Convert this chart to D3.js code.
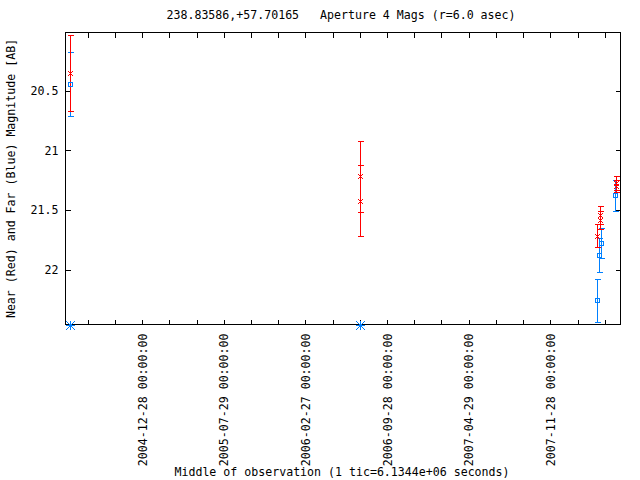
<!DOCTYPE html>
<html><head><meta charset="utf-8">
<script src="https://cdn.jsdelivr.net/npm/d3@7"></script>
<style>body{margin:0;background:#fff}svg{display:block}</style>
</head><body><svg id="c" width="640" height="480"></svg>
<script>
// ---------- data ----------
const titleText = "238.83586,+57.70165   Aperture 4 Mags (r=6.0 asec)";
const xTitle = "Middle of observation (1 tic=6.1344e+06 seconds)";
const yTitle = "Near (Red) and Far (Blue) Magnitude [AB]";

const xDomain = ["2004-06-10T21:00:00Z", "2008-05-29T05:00:00Z"];
const yDomain = [20.01, 22.46];
const yTicks = [20.5, 21, 21.5, 22];
const yTickLabels = ["20.5", "21", "21.5", "22"];
const xTickLabels = ["2004-12-28 00:00:00", "2005-07-29 00:00:00", "2006-02-27 00:00:00",
                     "2006-09-28 00:00:00", "2007-04-29 00:00:00", "2007-11-28 00:00:00"];
const ticStepDays = 71;       // 6.1344e6 s
const ticsPerLabel = 3;

// Near (red) aperture magnitudes
const nearDates = ["2004-06-23T00:00:00Z", "2006-07-20T07:00:00Z", "2006-07-20T07:00:00Z",
                   "2008-03-30T00:00:00Z", "2008-04-07T00:00:00Z", "2008-04-05T12:00:00Z",
                   "2008-05-17T00:00:00Z", "2008-05-17T00:00:00Z"];
const nearMags  = [20.350, 21.218, 21.420, 21.714, 21.542, 21.580, 21.271, 21.298];
const nearErrs  = [0.320, 0.300, 0.295, 0.097, 0.078, 0.076, 0.057, 0.050];

// Far (blue) aperture magnitudes
const farDates = ["2004-06-23T00:00:00Z", "2008-03-30T00:00:00Z", "2008-04-04T07:00:00Z",
                  "2008-04-09T12:00:00Z", "2008-05-16T00:00:00Z"];
const farMags  = [20.444, 22.258, 21.876, 21.775, 21.375];
const farErrs  = [0.268, 0.180, 0.140, 0.124, 0.130];

// Observations without far measurement (drawn at the bottom of the range)
const limitDates = ["2004-06-23T00:00:00Z", "2006-07-20T07:00:00Z"];
const limitMags  = [22.46, 22.46];

// ---------- layout ----------
const RED = "#ff0000", BLUE = "#0080ff";
const L = 65.5, R = 620.5, T = 32.5, B = 324.5;
const FONT = "'DejaVu Sans Mono', 'Liberation Mono', monospace";
const FS = "11.6px";

const svg = d3.select("#c");
svg.append("rect").attr("width", 640).attr("height", 480).attr("fill", "#fff");

const x = d3.scaleUtc().domain(xDomain.map(d => new Date(d))).range([L, R]);
const y = d3.scaleLinear().domain(yDomain).range([T, B]);

// x tick dates: labelled tics plus unlabelled tics between, every 71 days
const firstLabel = new Date(xTickLabels[0].replace(" ", "T") + "Z");
const labelSet = new Set(xTickLabels);
const fmt = d3.utcFormat("%Y-%m-%d %H:%M:%S");
const xTicks = [];
for (let k = -10; k < 40; k++) {
  const d = d3.utcDay.offset(firstLabel, k * ticStepDays);
  if (d >= x.domain()[0] && d <= x.domain()[1]) xTicks.push(d);
}

const g = svg.append("g").attr("shape-rendering", "crispEdges");

// bottom axis with D3
const xAxisB = d3.axisBottom(x).tickValues(xTicks).tickSizeInner(-5).tickSizeOuter(0)
  .tickFormat(d => labelSet.has(fmt(d)) ? fmt(d) : "");
const gx = g.append("g").attr("transform", `translate(0,${B})`).call(xAxisB);
gx.select(".domain").remove();
gx.selectAll(".tick line").attr("stroke", "#000");
gx.selectAll(".tick text")
  .attr("font-family", FONT).attr("font-size", FS).attr("fill", "#000")
  .attr("text-anchor", "end").attr("dy", null).attr("y", null)
  .attr("transform", "translate(0,9) rotate(-90)")
  .attr("dominant-baseline", "central");

// top mirrored ticks
const xAxisT = d3.axisTop(x).tickValues(xTicks).tickSizeInner(-5).tickSizeOuter(0).tickFormat("");
const gxt = g.append("g").attr("transform", `translate(0,${T})`).call(xAxisT);
gxt.select(".domain").remove();
gxt.selectAll(".tick line").attr("stroke", "#000");

// left axis
const yAxisL = d3.axisLeft(y).tickValues(yTicks).tickSizeInner(-5).tickSizeOuter(0)
  .tickPadding(8).tickFormat((d, i) => yTickLabels[i]);
const gy = g.append("g").attr("transform", `translate(${L},0)`).call(yAxisL);
gy.select(".domain").remove();
gy.selectAll(".tick line").attr("stroke", "#000");
gy.selectAll(".tick text").attr("font-family", FONT).attr("font-size", FS).attr("fill", "#000")
  .attr("x", -7);

// right mirrored ticks
const yAxisR = d3.axisRight(y).tickValues(yTicks).tickSizeInner(-5).tickSizeOuter(0).tickFormat("");
const gyr = g.append("g").attr("transform", `translate(${R},0)`).call(yAxisR);
gyr.select(".domain").remove();
gyr.selectAll(".tick line").attr("stroke", "#000");

// border
g.append("rect").attr("x", L).attr("y", T).attr("width", R - L).attr("height", B - T)
  .attr("fill", "none").attr("stroke", "#000");

// ---------- marks ----------
const plot = svg.append("g");
const CAP = 2.5;

function errorBars(dates, mags, errs, color) {
  const data = dates.map((d, i) => ({ x: x(new Date(d)), m: mags[i], e: errs[i] }));
  const eg = plot.append("g").attr("stroke", color).attr("stroke-width", 1)
    .attr("shape-rendering", "crispEdges");
  data.forEach(p => {
    const xs = Math.round(p.x) + 0.5;
    const y0 = Math.round(y(p.m - p.e)) + 0.5, y1 = Math.round(y(p.m + p.e)) + 0.5;
    eg.append("line").attr("x1", xs).attr("x2", xs).attr("y1", y0).attr("y2", y1);
    eg.append("line").attr("x1", xs - CAP).attr("x2", xs + CAP + 1).attr("y1", y0).attr("y2", y0);
    eg.append("line").attr("x1", xs - CAP).attr("x2", xs + CAP + 1).attr("y1", y1).attr("y2", y1);
  });
  return data;
}

// far bars first, near bars on top (as in the reference)
const farData = errorBars(farDates, farMags, farErrs, BLUE);
const nearData = errorBars(nearDates, nearMags, nearErrs, RED);

// red crosses
const cg = plot.append("g").attr("stroke", RED).attr("stroke-width", 1).attr("fill", "none");
nearData.forEach(p => {
  const cx = Math.round(p.x) + 0.5, cy = Math.round(y(p.m)) + 0.5, s = 2.5;
  cg.append("path").attr("d", `M${cx - s},${cy - s}L${cx + s},${cy + s}M${cx - s},${cy + s}L${cx + s},${cy - s}`);
});

// blue squares
const sg = plot.append("g").attr("stroke", BLUE).attr("stroke-width", 1).attr("fill", "none")
  .attr("shape-rendering", "crispEdges");
farData.forEach(p => {
  const cx = Math.round(p.x) + 0.5, cy = Math.round(y(p.m)) + 0.5, s = 2;
  sg.append("rect").attr("x", cx - s).attr("y", cy - s).attr("width", 2 * s).attr("height", 2 * s);
});

// blue asterisks
const ag = plot.append("g").attr("stroke", BLUE).attr("stroke-width", 1).attr("fill", "none");
limitDates.forEach((d, i) => {
  const cx = Math.round(x(new Date(d))) + 0.5, cy = Math.round(y(limitMags[i])) + 0.5, s = 4.5;
  ag.append("path").attr("d",
    `M${cx - s},${cy}L${cx + s},${cy}M${cx},${cy - s}L${cx},${cy + s}` +
    `M${cx - s},${cy - s}L${cx + s},${cy + s}M${cx - s},${cy + s}L${cx + s},${cy - s}`);
});

// ---------- text ----------
svg.append("text").attr("x", 341).attr("y", 19).attr("text-anchor", "middle")
  .attr("font-family", FONT).attr("font-size", FS).attr("fill", "#000")
  .attr("xml:space", "preserve").style("white-space", "pre").text(titleText);
svg.append("text").attr("x", 342).attr("y", 476).attr("text-anchor", "middle")
  .attr("font-family", FONT).attr("font-size", FS).attr("fill", "#000").text(xTitle);
svg.append("text").attr("transform", `translate(11,${(T + B) / 2}) rotate(-90)`)
  .attr("text-anchor", "middle").attr("dominant-baseline", "central")
  .attr("font-family", FONT).attr("font-size", FS).attr("fill", "#000").text(yTitle);
</script>
</body></html>
